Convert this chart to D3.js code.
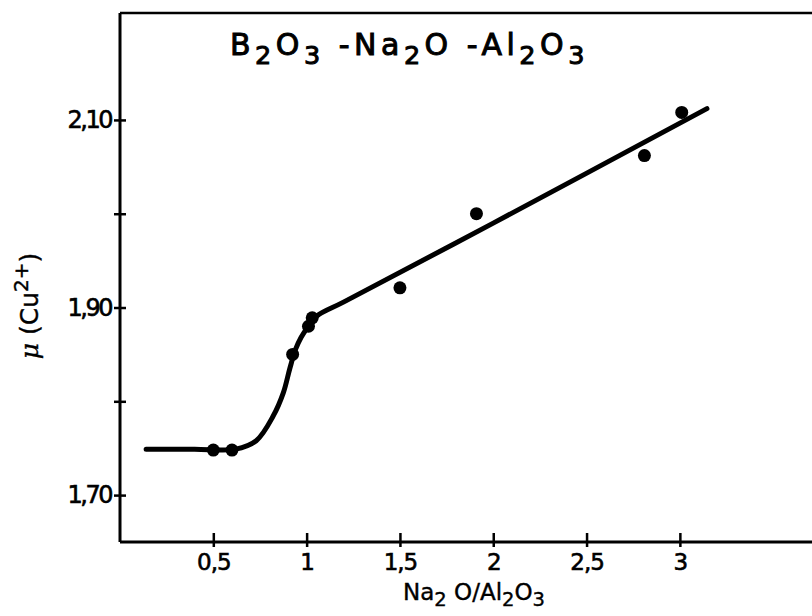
<!DOCTYPE html>
<html>
<head>
<meta charset="utf-8">
<script src="https://cdn.jsdelivr.net/npm/d3@7/dist/d3.min.js"></script>
<style>
  body { margin:0; background:#fff; }
  svg { display:block; }
  text { font-family: "DejaVu Sans", "Liberation Sans", sans-serif; fill:#000; }
</style>
</head>
<body>
<div id="chart-area"></div>
<script>
// measured points (Na2O/Al2O3 ratio, mu)
const ratio = [0.5, 0.6, 0.925, 1.01, 1.03, 1.5, 1.91, 2.81, 3.01];
const mu    = [1.748, 1.748, 1.850, 1.880, 1.889, 1.921, 2.000, 2.062, 2.108];

// hand drawn curve through the points
const curveX = [0.14, 0.40, 0.62, 0.73, 0.82, 0.875, 0.91, 0.94, 0.97, 1.01, 1.055, 1.20, 2.00, 3.145];
const curveY = [1.749, 1.749, 1.749, 1.758, 1.784, 1.809, 1.835, 1.855, 1.868, 1.880, 1.891, 1.906, 1.990, 2.112];

const xTicks = [0.5, 1, 1.5, 2, 2.5, 3];
const xTickLabels = ["0,5", "1", "1,5", "2", "2,5", "3"];
const yTicks = [1.7, 1.8, 1.9, 2.0, 2.1];
const yTickLabels = ["1,70", "", "1,90", "", "2,10"];

const W = 812, H = 616;
const margin = { left:120, right:0, top:13, bottom:74 };

const svg = d3.select("#chart-area")
    .append("svg")
    .attr("width", W)
    .attr("height", H);

const x = d3.scaleLinear()
    .domain([0, 3.708])
    .range([margin.left, W - margin.right]);

const y = d3.scaleLinear()
    .domain([1.65, 2.214])
    .range([H - margin.bottom, margin.top]);

// frame: top line
svg.append("line")
    .attr("x1", x(0)).attr("x2", W)
    .attr("y1", y(2.214)).attr("y2", y(2.214))
    .attr("stroke", "#000").attr("stroke-width", 2.5);

// x axis
const xAxis = svg.append("g")
    .attr("transform", "translate(0," + y(1.65) + ")")
    .call(d3.axisBottom(x)
        .tickValues(xTicks)
        .tickSize(5)
        .tickFormat(function(d, i){ return xTickLabels[i]; }));
xAxis.select(".domain")
    .attr("d", "M" + x(0) + ",0H" + W)
    .attr("stroke-width", 3);
xAxis.selectAll(".tick line")
    .attr("y1", -9).attr("y2", 5)
    .attr("stroke-width", 2.5);
xAxis.selectAll(".tick text")
    .attr("y", 12)
    .attr("dy", "0.71em")
    .attr("font-size", "23px")
    .attr("font-family", "DejaVu Sans")
    .attr("letter-spacing", "-1px")
    .attr("stroke", "#000")
    .attr("stroke-width", 0.6)
    .attr("fill", "#000");

// y axis
const yAxis = svg.append("g")
    .attr("transform", "translate(" + x(0) + ",0)")
    .call(d3.axisLeft(y)
        .tickValues(yTicks)
        .tickSize(6)
        .tickFormat(function(d, i){ return yTickLabels[i]; }));
yAxis.select(".domain")
    .attr("d", "M0," + y(2.214) + "V" + y(1.65))
    .attr("stroke-width", 3);
yAxis.selectAll(".tick line")
    .attr("x1", -6).attr("x2", 6)
    .attr("stroke-width", 2.5);
yAxis.selectAll(".tick text")
    .attr("x", -9)
    .attr("font-size", "24px")
    .attr("font-family", "DejaVu Sans")
    .attr("letter-spacing", "-2.5px")
    .attr("stroke", "#000")
    .attr("stroke-width", 0.6)
    .attr("fill", "#000");

// curve
const line = d3.line()
    .x(function(d){ return x(d[0]); })
    .y(function(d){ return y(d[1]); })
    .curve(d3.curveCatmullRom.alpha(0.5));

svg.append("path")
    .datum(d3.zip(curveX, curveY))
    .attr("d", line)
    .attr("fill", "none")
    .attr("stroke", "#000")
    .attr("stroke-width", 5)
    .attr("stroke-linecap", "round");

// points
svg.selectAll("circle.pt")
    .data(d3.zip(ratio, mu))
    .enter()
    .append("circle")
        .attr("class", "pt")
        .attr("cx", function(d){ return x(d[0]); })
        .attr("cy", function(d){ return y(d[1]); })
        .attr("r", 6.5)
        .attr("fill", "#000");

// chemical formula with subscripts, parts = [text, isSub]
function formula(t, parts, size, shift) {
    let cur = 0;
    parts.forEach(function(p){
        const target = p[1] ? size * shift : 0;
        t.append("tspan")
            .attr("dy", target - cur)
            .attr("font-size", p[1] ? size * 0.85 : size)
            .text(p[0]);
        cur = target;
    });
}

// title
const title = svg.append("text")
    .attr("x", 230)
    .attr("y", 55)
    .attr("font-size", "30px")
    .attr("letter-spacing", "4.5px")
    .attr("stroke", "#000")
    .attr("stroke-width", 1);
formula(title, [["B",0],["2",1],["O",0],["3",1],[" -Na",0],["2",1],["O",0],[" -Al",0],["2",1],["O",0],["3",1]], 30, 0.3);

// x label
const xLabel = svg.append("text")
    .attr("x", 474)
    .attr("y", 600)
    .attr("text-anchor", "middle")
    .attr("font-size", "23px")
    .attr("stroke", "#000")
    .attr("stroke-width", 0.4);
formula(xLabel, [["Na",0],["2",1],[" O/Al",0],["2",1],["O",0],["3",1]], 23, 0.25);

// y label
const yLabel = svg.append("text")
    .attr("transform", "translate(38,306) rotate(-90)")
    .attr("text-anchor", "middle")
    .attr("font-size", "25px")
    .attr("stroke", "#000")
    .attr("stroke-width", 0.4);
yLabel.append("tspan").attr("font-family", "DejaVu Serif").attr("font-style", "italic").text("μ");
yLabel.append("tspan").text(" (Cu");
yLabel.append("tspan").attr("dy", -10).attr("font-size", "20px").text("2+");
yLabel.append("tspan").attr("dy", 10).text(")");
</script>
</body>
</html>
